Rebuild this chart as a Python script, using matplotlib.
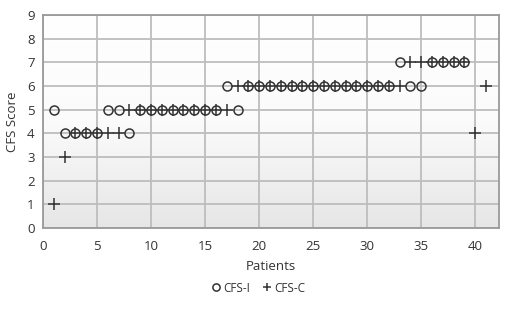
import matplotlib
matplotlib.use("Agg")
import matplotlib.pyplot as plt
import numpy as np
from matplotlib.colors import LinearSegmentedColormap

patients_i = list(range(1, 40))
cfs_i = [5, 4, 4, 4, 4, 5, 5, 4, 5, 5, 5, 5, 5, 5, 5, 5, 6, 5,
         6, 6, 6, 6, 6, 6, 6, 6, 6, 6, 6, 6, 6, 6, 7, 6, 6, 7, 7, 7, 7]
patients_c = list(range(1, 42))
cfs_c = [1, 3, 4, 4, 4, 4, 4, 5, 5, 5, 5, 5, 5, 5, 5, 5, 5, 6,
         6, 6, 6, 6, 6, 6, 6, 6, 6, 6, 6, 6, 6, 6, 6, 7, 7, 7, 7, 7, 7, 4, 6]
xticks = [0, 5, 10, 15, 20, 25, 30, 35, 40]
yticks = list(range(0, 10))

plt.rcParams['font.family'] = ['Open Sans', 'DejaVu Sans']

fig = plt.figure(figsize=(5.07, 3.23), dpi=100)
ax = fig.add_axes([43/507, 1-228/323, (499-43)/507, (228-15)/323])

grad = np.linspace(0, 1, 256).reshape(-1, 1)
cmap = LinearSegmentedColormap.from_list('g', ['#ffffff', '#fbfbfb', '#e6e6e6'])
ax.imshow(grad, extent=[0, 1, 0, 1], transform=ax.transAxes, aspect='auto',
          cmap=cmap, origin='upper', zorder=0)

ax.set_xlim(0, 42.2)
ax.set_ylim(0, 9)
ax.set_xticks(xticks)
ax.set_yticks(yticks)
ax.grid(True, color='#bdbdbd', linewidth=1.3, zorder=1)
ax.set_axisbelow(True)
for s in ax.spines.values():
    s.set_color('#9a9a9a')
    s.set_linewidth(1.3)
ax.tick_params(length=0, labelsize=9.5, colors='#333333')
ax.tick_params(axis='x', pad=9)
ax.tick_params(axis='y', pad=6)

ax.plot(patients_i, cfs_i, linestyle='none', marker='o', markersize=6.5,
        markerfacecolor='none', markeredgecolor='#333333', markeredgewidth=1.1,
        label='CFS-I', zorder=3)
ax.plot(patients_c, cfs_c, linestyle='none', marker='+', markersize=8,
        markeredgecolor='#333333', markeredgewidth=1.1, label='CFS-C', zorder=3)

ax.set_xlabel('Patients', fontsize=9.5, color='#333333', labelpad=5)
ax.set_ylabel('CFS Score', fontsize=9.5, color='#333333', labelpad=6)

fig.legend(loc='center', bbox_to_anchor=(257/507, 1-288/323), ncol=2, frameon=False,
           fontsize=8.5, handletextpad=0.0, columnspacing=0.8, handlelength=1.2,
           markerscale=0.8, labelcolor='#333333')

fig.savefig('out.png', dpi=100)
